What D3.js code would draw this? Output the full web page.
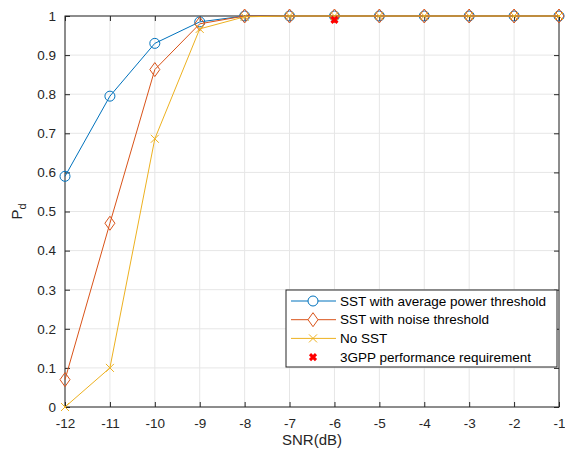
<!DOCTYPE html>
<html>
<head>
<meta charset="utf-8">
<script src="https://cdn.jsdelivr.net/npm/d3@7"></script>
<style>
  body { margin: 0; background: #fff; overflow: hidden; }
  svg { display: block; }
  text { font-family: "Liberation Sans", Arial, sans-serif; }
</style>
</head>
<body>
<svg id="chart" width="565" height="456" viewBox="0 0 565 456"></svg>
<script>
const snr = [-12, -11, -10, -9, -8, -7, -6, -5, -4, -3, -2, -1];
const avgPower = [0.59, 0.795, 0.93, 0.985, 1, 1, 1, 1, 1, 1, 1, 1];
const noiseThr = [0.07, 0.47, 0.863, 0.98, 1, 1, 1, 1, 1, 1, 1, 1];
const noSst = [0, 0.1, 0.686, 0.967, 0.998, 1, 1, 1, 1, 1, 1, 1];
const req = [{ x: -6, y: 0.99 }];
const yTicks = [0, 0.1, 0.2, 0.3, 0.4, 0.5, 0.6, 0.7, 0.8, 0.9, 1];

const series = [
  { name: 'SST with average power threshold', values: avgPower, color: '#0072BD', marker: 'circle' },
  { name: 'SST with noise threshold', values: noiseThr, color: '#D95319', marker: 'diamond' },
  { name: 'No SST', values: noSst, color: '#EDB120', marker: 'x' },
];

const width = 565, height = 456;
const margin = { top: 16, right: 6, bottom: 49, left: 65 };
const innerWidth = width - margin.left - margin.right;
const innerHeight = height - margin.top - margin.bottom;

const svg = d3.select('#chart');
const g = svg.append('g').attr('transform', `translate(${margin.left},${margin.top})`);

const x = d3.scaleLinear().domain([-12, -1]).range([0, innerWidth]);
const y = d3.scaleLinear().domain([0, 1]).range([innerHeight, 0]);

// grid
g.append('g').selectAll('line').data(snr).join('line')
  .attr('x1', d => x(d)).attr('x2', d => x(d))
  .attr('y1', 0).attr('y2', innerHeight)
  .attr('stroke', '#e6e6e6');
g.append('g').selectAll('line').data(yTicks).join('line')
  .attr('y1', d => y(d)).attr('y2', d => y(d))
  .attr('x1', 0).attr('x2', innerWidth)
  .attr('stroke', '#e6e6e6');

const axisColor = '#262626';
const styleAxis = (a) => {
  a.select('.domain').remove();
  a.selectAll('line').attr('stroke', axisColor);
  a.selectAll('text').attr('fill', axisColor).style('font-size', '13.5px');
};
const noLabels = (a) => a.selectAll('text').remove();

g.append('g').attr('transform', `translate(0,${innerHeight})`)
  .call(d3.axisBottom(x).tickValues(snr).tickSize(-5).tickPadding(11).tickFormat(d => String(d)))
  .call(styleAxis);
g.append('g')
  .call(d3.axisLeft(y).tickValues(yTicks).tickSize(-5).tickPadding(9).tickFormat(d => d))
  .call(styleAxis);
g.append('g').call(d3.axisTop(x).tickValues(snr).tickSize(-5))
  .call(styleAxis).call(noLabels);
g.append('g').attr('transform', `translate(${innerWidth},0)`)
  .call(d3.axisRight(y).tickValues(yTicks).tickSize(-5))
  .call(styleAxis).call(noLabels);

g.append('rect').attr('width', innerWidth).attr('height', innerHeight)
  .attr('fill', 'none').attr('stroke', axisColor).attr('stroke-width', 1);

const line = d3.line().x((d, i) => x(snr[i])).y(d => y(d));

const drawMarker = (sel, type, color) => {
  if (type === 'circle') {
    sel.append('circle').attr('r', 5).attr('fill', 'none').attr('stroke', color);
  } else if (type === 'diamond') {
    sel.append('path').attr('d', 'M0,-7L5,0L0,7L-5,0Z').attr('fill', 'none').attr('stroke', color);
  } else if (type === 'x') {
    sel.append('path').attr('d', 'M-4,-4L4,4M-4,4L4,-4').attr('stroke', color);
  }
};

const plot = g.append('g');
series.forEach(s => {
  plot.append('path').datum(s.values).attr('d', line)
    .attr('fill', 'none').attr('stroke', s.color).attr('stroke-width', 1);
  plot.append('g').selectAll('g').data(s.values).join('g')
    .attr('transform', (d, i) => `translate(${x(snr[i])},${y(d)})`)
    .each(function () { drawMarker(d3.select(this), s.marker, s.color); });
});

plot.selectAll('.req').data(req).join('path').attr('class', 'req')
  .attr('transform', d => `translate(${x(d.x)},${y(d.y)})`)
  .attr('d', 'M-3,-3L3,3M-3,3L3,-3')
  .attr('stroke', '#ff0000').attr('stroke-width', 3);

// axis labels
svg.append('text').attr('x', margin.left + innerWidth / 2).attr('y', 445)
  .attr('text-anchor', 'middle').attr('fill', axisColor).style('font-size', '15px')
  .text('SNR(dB)');
const yl = svg.append('text').attr('transform', `translate(22,${margin.top + innerHeight / 2}) rotate(-90)`)
  .attr('text-anchor', 'middle').attr('fill', axisColor).style('font-size', '15px');
yl.append('tspan').text('P');
yl.append('tspan').attr('dy', 4).style('font-size', '11px').text('d');

// legend
const legend = svg.append('g').attr('transform', 'translate(286,290)');
legend.append('rect').attr('width', 271).attr('height', 77)
  .attr('fill', '#fff').attr('stroke', axisColor);
const legendItems = [...series, { name: '3GPP performance requirement', color: '#ff0000', marker: 'req' }];
legendItems.forEach((s, i) => {
  const row = legend.append('g').attr('transform', `translate(0,${11 + i * 18.7})`);
  if (s.marker === 'req') {
    row.append('path').attr('transform', 'translate(27,0)')
      .attr('d', 'M-3,-3L3,3M-3,3L3,-3').attr('stroke', '#ff0000').attr('stroke-width', 3);
  } else {
    row.append('line').attr('x1', 5).attr('x2', 50).attr('stroke', s.color);
    const m = row.append('g').attr('transform', 'translate(27,0)');
    drawMarker(m, s.marker, s.color);
    m.selectAll('circle,path').attr('fill', '#fff');
  }
  row.append('text').attr('x', 54).attr('dy', '0.35em').attr('fill', '#000')
    .style('font-size', '13.5px').text(s.name);
});
</script>
</body>
</html>
